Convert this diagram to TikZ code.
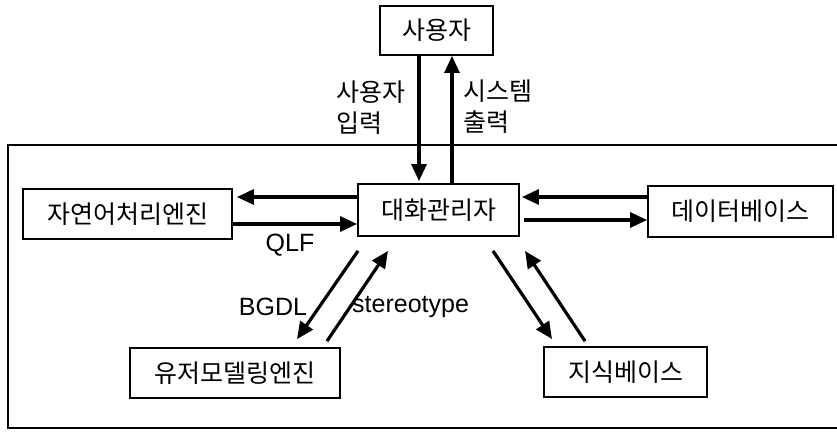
\documentclass[tikz,border=0pt]{standalone}
\usepackage{fontspec}
\setmainfont{Liberation Sans}
\newfontfamily\kr{Noto Sans CJK KR}
\usetikzlibrary{arrows.meta}
\tikzset{
  box/.style={draw, line width=1.8pt, inner sep=0pt, font=\kr\fontsize{25}{29}\selectfont},
  arr/.style={line width=3.2pt, -{Triangle[length=17pt,width=15pt]}},
  lbl/.style={inner sep=0pt, font=\fontsize{25}{30}\selectfont},
  krlbl/.style={inner sep=0pt, align=left, font=\kr\fontsize{25}{31}\selectfont},
  frame/.style={line width=1.3pt}
}
\begin{document}
\begin{tikzpicture}[x=1pt,y=-1pt]
\useasboundingbox (0,0) rectangle (837,433);
% outer frame (right side open)
\draw[frame] (837,145) -- (8,145) -- (8,428) -- (837,428);
% nodes
\node[box, minimum width=113pt, minimum height=49pt] (user) at (436.5,30.5) {사용자};
\node[box, minimum width=161pt, minimum height=52pt] (dm) at (438.5,210) {대화관리자};
\node[box, minimum width=209pt, minimum height=50pt] (nlp) at (127.5,214) {자연어처리엔진};
\node[box, minimum width=185pt, minimum height=51pt] (db) at (740.5,211.5) {데이터베이스};
\node[box, minimum width=210pt, minimum height=50pt] (um) at (235,373) {유저모델링엔진};
\node[box, minimum width=163pt, minimum height=50pt] (kb) at (625.5,372) {지식베이스};
% user <-> dialogue manager
\draw[arr] ([xshift=-17.5pt]user.south) -- ([xshift=-19.5pt,yshift=2pt]dm.north);
\draw[arr] ([xshift=13.5pt]dm.north) -- ([xshift=15.5pt]user.south);
% nlp
\draw[arr] ([yshift=13pt]dm.west) -- ([xshift=4pt,yshift=17pt]nlp.east);
\draw[arr] ([yshift=-10pt]nlp.east) -- ([yshift=-14pt]dm.west);
% database
\draw[arr] ([yshift=14.5pt]db.west) -- ([xshift=2pt,yshift=13pt]dm.east);
\draw[arr] ([xshift=4pt,yshift=-10pt]dm.east) -- ([yshift=-8.5pt]db.west);
% user modeling
\draw[arr] ([xshift=-80.5pt,yshift=-14pt]dm.south) -- ([xshift=62pt,yshift=8pt]um.north);
\draw[arr] ([xshift=92pt,yshift=6pt]um.north) -- ([xshift=-50.5pt,yshift=-14pt]dm.south);
% knowledge base
\draw[arr] ([xshift=54.5pt,yshift=-14pt]dm.south) -- ([xshift=-73.5pt,yshift=7pt]kb.north);
\draw[arr] ([xshift=-40.5pt,yshift=5pt]kb.north) -- ([xshift=86.5pt,yshift=-14pt]dm.south);
% labels
\node[krlbl, anchor=west] (lin) at (336,108) {사용자\\입력};
\node[krlbl, anchor=west] (lout) at (463,107) {시스템\\출력};
\node[lbl] (lqlf) at (290,245) {QLF};
\node[lbl] (lbgdl) at (273,307) {BGDL};
\node[lbl, anchor=west] (lst) at (352,307) {stereotype};
\end{tikzpicture}
\end{document}
